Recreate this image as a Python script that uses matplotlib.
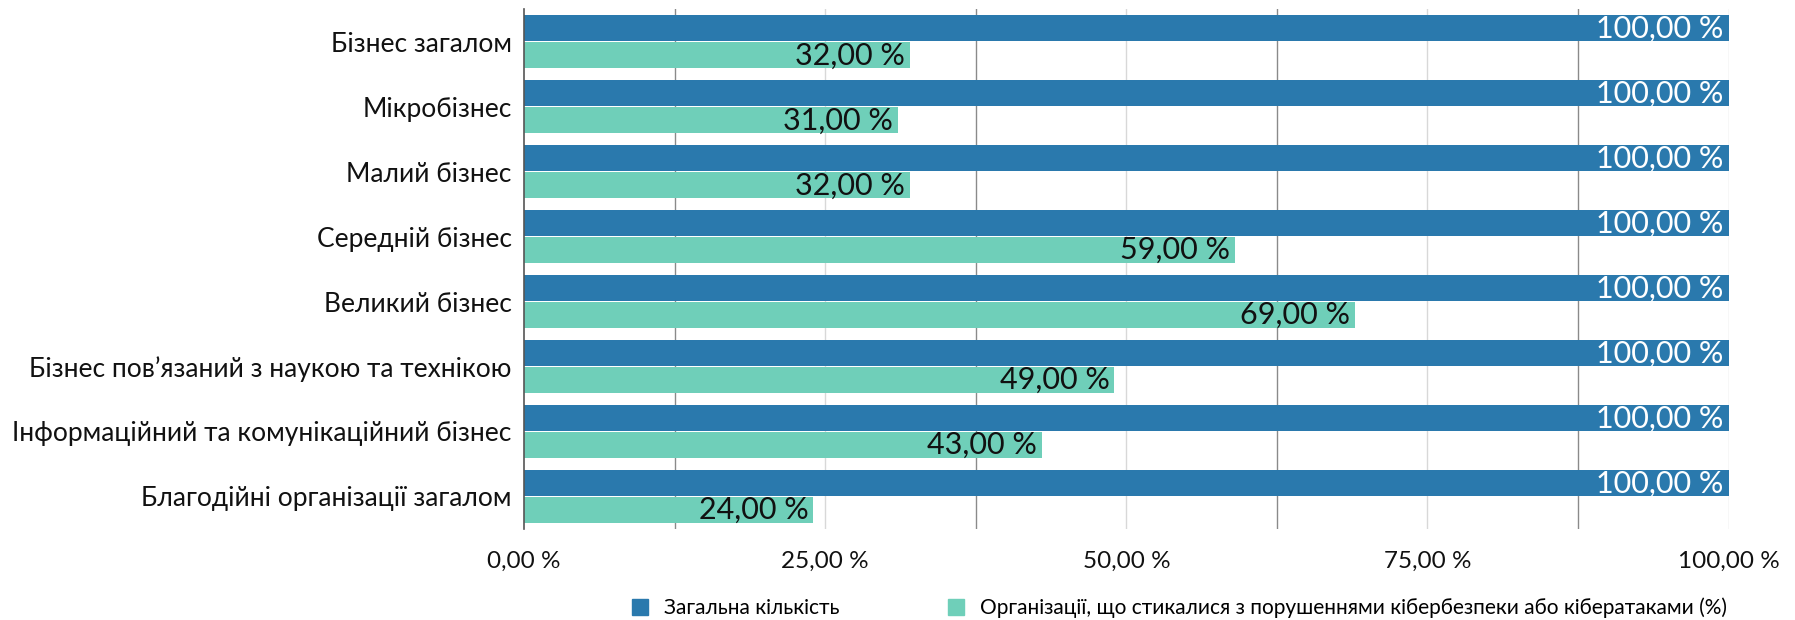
import matplotlib.pyplot as plt
from matplotlib.patches import Patch

plt.rcParams['font.family'] = ['Lato', 'DejaVu Sans']

# --- Data
categories = [
    'Бізнес загалом',
    'Мікробізнес',
    'Малий бізнес',
    'Середній бізнес',
    'Великий бізнес',
    'Бізнес пов’язаний з наукою та технікою',
    'Інформаційний та комунікаційний бізнес',
    'Благодійні організації загалом',
]
total = [100, 100, 100, 100, 100, 100, 100, 100]
affected = [32, 31, 32, 59, 69, 49, 43, 24]
series_names = [
    'Загальна кількість',
    'Організації, що стикалися з порушеннями кібербезпеки або кібератаками (%)',
]
xticks = [0, 25, 50, 75, 100]

blue = '#2a79ad'
teal = '#6fcfb9'


def pct(v):
    return f'{v:.2f}'.replace('.', ',') + ' %'


fig = plt.figure(figsize=(17.95, 6.2), dpi=100)
ax = fig.add_axes([0.292, 0.147, 0.671, 0.838])

y = list(range(len(categories)))
h = 0.4
ax.barh([i - 0.205 for i in y], total, height=h, color=blue, zorder=2)
ax.barh([i + 0.205 for i in y], affected, height=h, color=teal, zorder=2)

# --- Value labels inside the bar ends
for i, v in enumerate(total):
    ax.text(v - 0.4, i - 0.2, pct(v), ha='right', va='center',
            fontsize=22, color='white', zorder=3)
for i, v in enumerate(affected):
    ax.text(v - 0.4, i + 0.21, pct(v), ha='right', va='center',
            fontsize=22, color='#111111', zorder=3)

ax.set_xlim(0, 100)
ax.set_ylim(len(categories) - 0.5, -0.5)

# alternating grid: darker lines between labelled ticks
for k in range(1, 9):
    x = k * 12.5
    col = '#8a8a8a' if k % 2 else '#d8d8d8'
    ax.axvline(x, color=col, lw=1, zorder=1)

ax.set_yticks(y)
ax.set_yticklabels(categories, fontsize=19, color='#111111')
ax.set_xticks(xticks)
ax.set_xticklabels([pct(t) for t in xticks], fontsize=17.5, color='#111111')
ax.tick_params(axis='both', length=0)
ax.tick_params(axis='y', pad=9)
ax.tick_params(axis='x', pad=16)

for s in ['top', 'right', 'bottom']:
    ax.spines[s].set_visible(False)
ax.spines['left'].set_color('#555555')
ax.spines['left'].set_linewidth(1.2)
ax.spines['left'].set_zorder(4)

handles = [Patch(color=blue), Patch(color=teal)]
fig.legend(handles, series_names, loc='center', bbox_to_anchor=(0.657, 0.02),
           ncol=2, frameon=False, fontsize=15, handlelength=0.8, handleheight=0.8,
           columnspacing=5.2, handletextpad=0.75)

fig.savefig('out.png', dpi=100)
